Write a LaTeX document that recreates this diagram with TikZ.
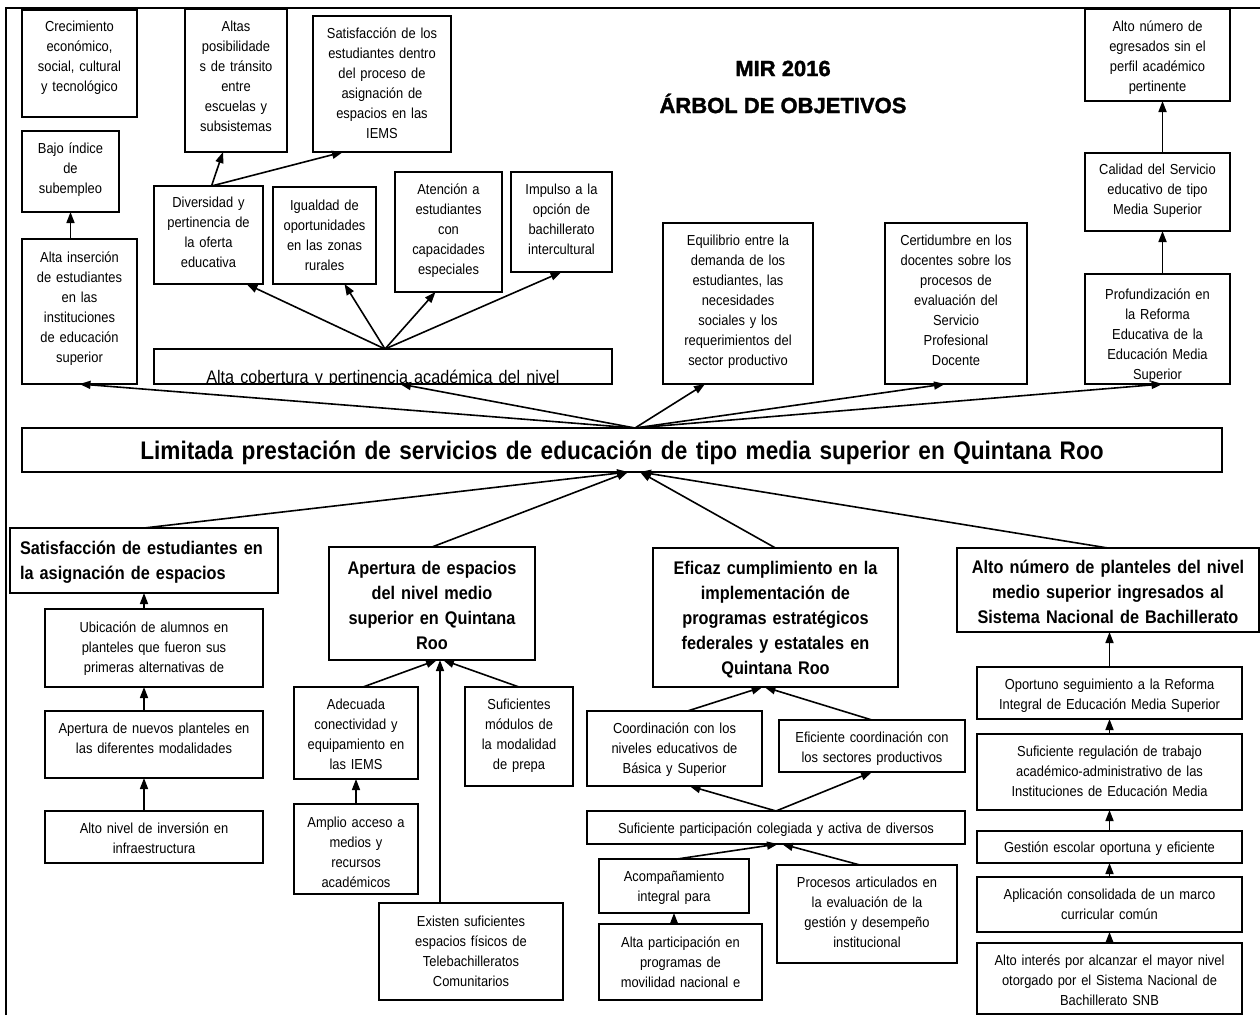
\documentclass[tikz,border=0pt]{standalone}
\usepackage{fontspec}
\setmainfont{Liberation Sans}[FakeStretch=0.89]
\newfontfamily\titlefont{Liberation Sans}[BoldFeatures={FakeBold=1.5}]
\usepackage{tikz}
\usetikzlibrary{arrows.meta}
\usetikzlibrary{calc}

\newcommand{\goal}[7][goaltext]{%
  \pgfmathsetmacro{\gw}{#5-#3}%
  \pgfmathsetmacro{\gh}{#6-#4}%
  \node[goal, minimum width=\gw pt, minimum height=\gh pt, anchor=north west] (#2) at (#3,#4) {};
  \begin{scope}
    \clip (#2.south west) rectangle (#2.north east);
    \node[#1, text width=\gw pt-6pt, anchor=base] at (#2.north) {#7};
  \end{scope}
}

\begin{document}
\begin{tikzpicture}[x=1pt, y=-1pt,
  goal/.style={draw, line width=1.3pt, inner sep=0pt, outer sep=0pt},
  goaltext/.style={font=\fontsize{14.5}{20}\selectfont, align=center, inner sep=0pt, yshift=-22pt},
  headtext/.style={font=\bfseries\fontsize{18.3}{25}\selectfont, align=center, inner sep=0pt, yshift=-27pt},
  limtext/.style={font=\bfseries\fontsize{25.4}{30}\selectfont, align=center, inner sep=0pt, yshift=-31pt},
  arr/.style={line width=1.6pt, -{Triangle[length=11pt,width=8pt]}}]

        \useasboundingbox (0,0) rectangle (1260,1015);

        \draw[line width=1.6pt] (6,1015) -- (6,8) -- (1260,8);

        \node[font=\titlefont\bfseries\fontsize{22}{37}\selectfont, align=center] (title) at (783,87) {MIR 2016\\ÁRBOL DE OBJETIVOS};

        % fines
        \goal[goaltext,yshift=1pt]{cre}{22}{10}{137}{117}{Crecimiento\\económico,\\social, cultural\\y tecnológico}
        \goal{alt}{185}{9}{287}{152}{Altas\\posibilidade\\s de tránsito\\entre\\escuelas y\\subsistemas}
        \goal{sat}{313}{16}{451}{152}{Satisfacción de los\\estudiantes dentro\\del proceso de\\asignación de\\espacios en las\\IEMS}
        \goal{baj}{22}{131}{119}{212}{Bajo índice\\de\\subempleo}
        \goal[goaltext,yshift=-1pt]{ins}{22}{239}{137}{384}{Alta inserción\\de estudiantes\\en las\\instituciones\\de educación\\superior}
        \goal[goaltext,yshift=1pt]{div}{154}{186}{263}{284}{Diversidad y\\pertinencia de\\la oferta\\educativa}
        \goal[goaltext,yshift=-1pt]{igu}{273}{187}{376}{284}{Igualdad de\\oportunidades\\en las zonas\\rurales}
        \goal{ate}{395}{172}{502}{292}{Atención a\\estudiantes\\con\\capacidades\\especiales}
        \goal{imp}{511}{172}{612}{272}{Impulso a la\\opción de\\bachillerato\\intercultural}
        \goal[goaltext,font=\fontsize{18.2}{22}\selectfont,yshift=-12pt]{cob}{154}{349}{612}{384}{Alta cobertura y pertinencia académica del nivel}
        \goal{equ}{663}{223}{813}{384}{Equilibrio entre la\\demanda de los\\estudiantes, las\\necesidades\\sociales y los\\requerimientos del\\sector productivo}
        \goal{cer}{885}{223}{1027}{384}{Certidumbre en los\\docentes sobre los\\procesos de\\evaluación del\\Servicio\\Profesional\\Docente}
        \goal{aln}{1085}{9}{1230}{101}{Alto número de\\egresados sin el\\perfil académico\\pertinente}
        \goal[goaltext,yshift=1pt]{cal}{1085}{153}{1230}{231}{Calidad del Servicio\\educativo de tipo\\Media Superior}
        \goal[goaltext,yshift=-3pt]{pro}{1085}{274}{1230}{384}{Profundización en\\la Reforma\\Educativa de la\\Educación Media\\Superior}

        % problema central
        \goal[limtext]{lim}{22}{428}{1222}{472}{Limitada prestación de servicios de educación de tipo media superior en Quintana Roo}

        % medios
        \goal[headtext,align=left,xshift=7pt,yshift=1pt]{sae}{10}{528}{278}{593}{Satisfacción de estudiantes en\\la asignación de espacios}
        \goal[goaltext,yshift=-1pt]{ubi}{45}{609}{263}{687}{Ubicación de alumnos en\\planteles que fueron sus\\primeras alternativas de}
        \goal{apn}{45}{711}{263}{778}{Apertura de nuevos planteles en\\las diferentes modalidades}
        \goal{inv}{45}{811}{263}{863}{Alto nivel de inversión en\\infraestructura}

        \goal[headtext]{ape}{329}{547}{535}{660}{Apertura de espacios\\del nivel medio\\superior en Quintana\\Roo}
        \goal{ade}{294}{687}{418}{779}{Adecuada\\conectividad y\\equipamiento en\\las IEMS}
        \goal[goaltext,yshift=-1pt]{amp}{294}{804}{418}{894}{Amplio acceso a\\medios y\\recursos\\académicos}
        \goal{suf}{465}{687}{573}{786}{Suficientes\\módulos de\\la modalidad\\de prepa}
        \goal[goaltext,yshift=-1pt]{exi}{379}{903}{563}{1000}{Existen suficientes\\espacios físicos de\\Telebachilleratos\\Comunitarios}

        \goal[headtext,yshift=1pt]{efi}{653}{548}{898}{687}{Eficaz cumplimiento en la\\implementación de\\programas estratégicos\\federales y estatales en\\Quintana Roo}
        \goal{coo}{587}{711}{762}{786}{Coordinación con los\\niveles educativos de\\Básica y Superior}
        \goal{eco}{779}{720}{965}{772}{Eficiente coordinación con\\los sectores productivos}
        \goal{par}{587}{811}{965}{844}{Suficiente participación colegiada y activa de diversos}
        \goal{aco}{599}{859}{749}{913}{Acompañamiento\\integral para}
        \goal[goaltext,yshift=-1pt]{alp}{599}{924}{762}{1000}{Alta participación en\\programas de\\movilidad nacional e}
        \goal{prc}{777}{865}{957}{963}{Procesos articulados en\\la evaluación de la\\gestión y desempeño\\institucional}

        \goal[headtext,yshift=2pt]{anp}{957}{548}{1259}{632}{Alto número de planteles del nivel\\medio superior ingresados al\\Sistema Nacional de Bachillerato}
        \goal{opo}{977}{667}{1242}{719}{Oportuno seguimiento a la Reforma\\Integral de Educación Media Superior}
        \goal{reg}{977}{734}{1242}{810}{Suficiente regulación de trabajo\\académico-administrativo de las\\Instituciones de Educación Media}
        \goal[goaltext,yshift=1pt]{ges}{977}{831}{1242}{863}{Gestión escolar oportuna y eficiente}
        \goal{apl}{977}{877}{1242}{932}{Aplicación consolidada de un marco\\curricular común}
        \goal{ain}{977}{943}{1242}{1014}{Alto interés por alcanzar el mayor nivel\\otorgado por el Sistema Nacional de\\Bachillerato SNB}

        \coordinate (limtop) at ($(lim.north)+(13,0)$);
        \coordinate (limbotL) at ($(lim.south)+(6,0)$);
        \coordinate (limbotR) at ($(lim.south)+(18,0)$);
        \coordinate (cobtop) at ($(cob.north)+(2,0)$);
        \coordinate (divtop) at ($(div.north)+(3,0)$);
        \coordinate (apebot) at ($(ape.south)+(8,0)$);

        \draw[arr] (limtop) -- (ins.south);
        \draw[arr] (limtop) -- ($(cob.south)+(17,0)$);
        \draw[arr] (limtop) -- ($(equ.south)+(-33,0)$);
        \draw[arr] (limtop) -- ($(cer.south)+(-11,0)$);
        \draw[arr] (limtop) -- ($(pro.south)+(5,0)$);

        \draw[arr] (cobtop) -- ($(div.south)+(38,0)$);
        \draw[arr] (cobtop) -- ($(igu.south)+(20,0)$);
        \draw[arr] (cobtop) -- ($(ate.south)+(-13,0)$);
        \draw[arr] (cobtop) -- (imp.south);

        \draw[arr] (divtop) -- ($(alt.south)+(-13,0)$);
        \draw[arr] (divtop) -- ($(sat.south)+(-39,0)$);
        \draw[arr] (ins.north -| baj.south) -- (baj.south);
        \draw[arr] ($(pro.north)+(5,0)$) -- ($(cal.south)+(5,0)$);
        \draw[arr] ($(cal.north)+(5,0)$) -- ($(aln.south)+(5,0)$);

        \draw[arr] (sae.north) -- (limbotL);
        \draw[arr] (ape.north) -- (limbotL);
        \draw[arr] (efi.north) -- (limbotR);
        \draw[arr] (anp.north) -- (limbotR);

        \draw[arr] (ubi.north -| sae.south) -- (sae.south);
        \draw[arr] (apn.north -| sae.south) -- (ubi.south -| sae.south);
        \draw[arr] (inv.north -| sae.south) -- (apn.south -| sae.south);

        \draw[arr] ($(ade.north)+(7,0)$) -- ($(ape.south)+(5,0)$);
        \draw[arr] (exi.north -| apebot) -- (apebot);
        \draw[arr] (suf.north) -- ($(ape.south)+(11,0)$);
        \draw[arr] (amp.north) -- (ade.south);

        \draw[arr] ($(coo.north)+(13,0)$) -- ($(efi.south)+(-13,0)$);
        \draw[arr] (eco.north) -- ($(efi.south)+(-11,0)$);
        \draw[arr] (par.north) -- ($(coo.south)+(15,0)$);
        \draw[arr] (par.north) -- (eco.south);
        \draw[arr] ($(aco.north)+(3,0)$) -- ($(par.south)+(2,0)$);
        \draw[arr] ($(prc.north)+(-7,0)$) -- ($(par.south)+(6,0)$);
        \draw[arr] (alp.north -| aco.south) -- (aco.south);

        \draw[arr] (opo.north) -- (opo.north |- anp.south);
        \draw[arr] (reg.north) -- (opo.south);
        \draw[arr] (ges.north) -- (reg.south);
        \draw[arr] (apl.north) -- (ges.south);
        \draw[arr] (ain.north) -- (apl.south);

    \end{tikzpicture}
\end{document}
